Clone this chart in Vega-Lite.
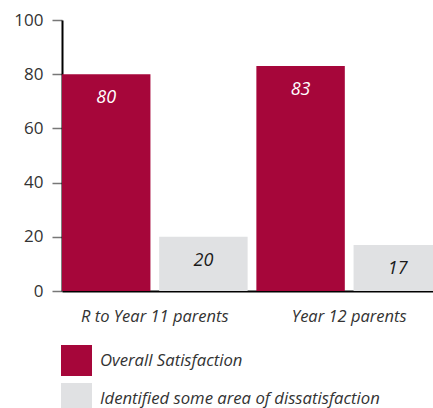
{
  "$schema": "https://vega.github.io/schema/vega-lite/v6.json",
  "autosize": {"type": "none"},
  "padding": {"left": 62, "top": 20, "right": -9, "bottom": 117},
  "width": 380,
  "height": 271,
  "background": "white",
  "config": {
    "view": {"stroke": null},
    "font": "Open Sans"
  },
  "data": {
    "values": [
      {"group": "R to Year 11 parents", "series": "Overall Satisfaction", "value": 80},
      {"group": "R to Year 11 parents", "series": "Identified some area of dissatisfaction", "value": 20},
      {"group": "Year 12 parents", "series": "Overall Satisfaction", "value": 83},
      {"group": "Year 12 parents", "series": "Identified some area of dissatisfaction", "value": 17}
    ]
  },
  "encoding": {
    "x": {
      "field": "group", "type": "nominal", "sort": null,
      "scale": {"paddingInner": 0.045, "paddingOuter": 0},
      "axis": {
        "title": null, "labelAngle": 0, "ticks": false,
        "domainColor": "#000", "domainWidth": 2,
        "labelFont": "Open Sans", "labelFontStyle": "italic", "labelFontSize": 16.5,
        "labelColor": "#333", "labelPadding": 17
      }
    },
    "xOffset": {
      "field": "series", "type": "nominal",
      "sort": ["Overall Satisfaction", "Identified some area of dissatisfaction"],
      "scale": {"paddingInner": 0.09, "paddingOuter": 0}
    },
    "y": {
      "field": "value", "type": "quantitative",
      "scale": {"domain": [0, 100], "nice": false},
      "axis": {
        "title": null, "values": [0, 20, 40, 60, 80, 100], "grid": false,
        "domainColor": "#000", "domainWidth": 2,
        "tickColor": "#777", "tickWidth": 1.5, "tickSize": 10,
        "labelFontSize": 17, "labelColor": "#333", "labelPadding": 9,
        "labelFont": "Open Sans"
      }
    }
  },
  "layer": [
    {
      "mark": {"type": "bar"},
      "encoding": {
        "color": {
          "field": "series", "type": "nominal",
          "sort": ["Overall Satisfaction", "Identified some area of dissatisfaction"],
          "scale": {
            "domain": ["Overall Satisfaction", "Identified some area of dissatisfaction"],
            "range": ["#A6063A", "#E0E1E3"]
          },
          "legend": {
            "title": null, "orient": "none", "legendX": -1, "legendY": 325,
            "direction": "vertical", "padding": 0,
            "symbolType": "square", "symbolSize": 961, "symbolStrokeWidth": 0,
            "symbolOpacity": 1,
            "labelFont": "Open Sans", "labelFontStyle": "italic", "labelFontSize": 16.7,
            "labelColor": "#333", "labelOffset": 8, "rowPadding": 7,
            "labelLimit": 400
          }
        }
      }
    },
    {
      "mark": {"type": "text", "baseline": "middle", "dy": 24, "fontStyle": "italic", "fontSize": 18, "font": "Open Sans"},
      "encoding": {
        "text": {"field": "value", "type": "quantitative"},
        "color": {
          "condition": {"test": "datum.series === 'Overall Satisfaction'", "value": "white"},
          "value": "#1a1a1a"
        }
      }
    }
  ]
}
